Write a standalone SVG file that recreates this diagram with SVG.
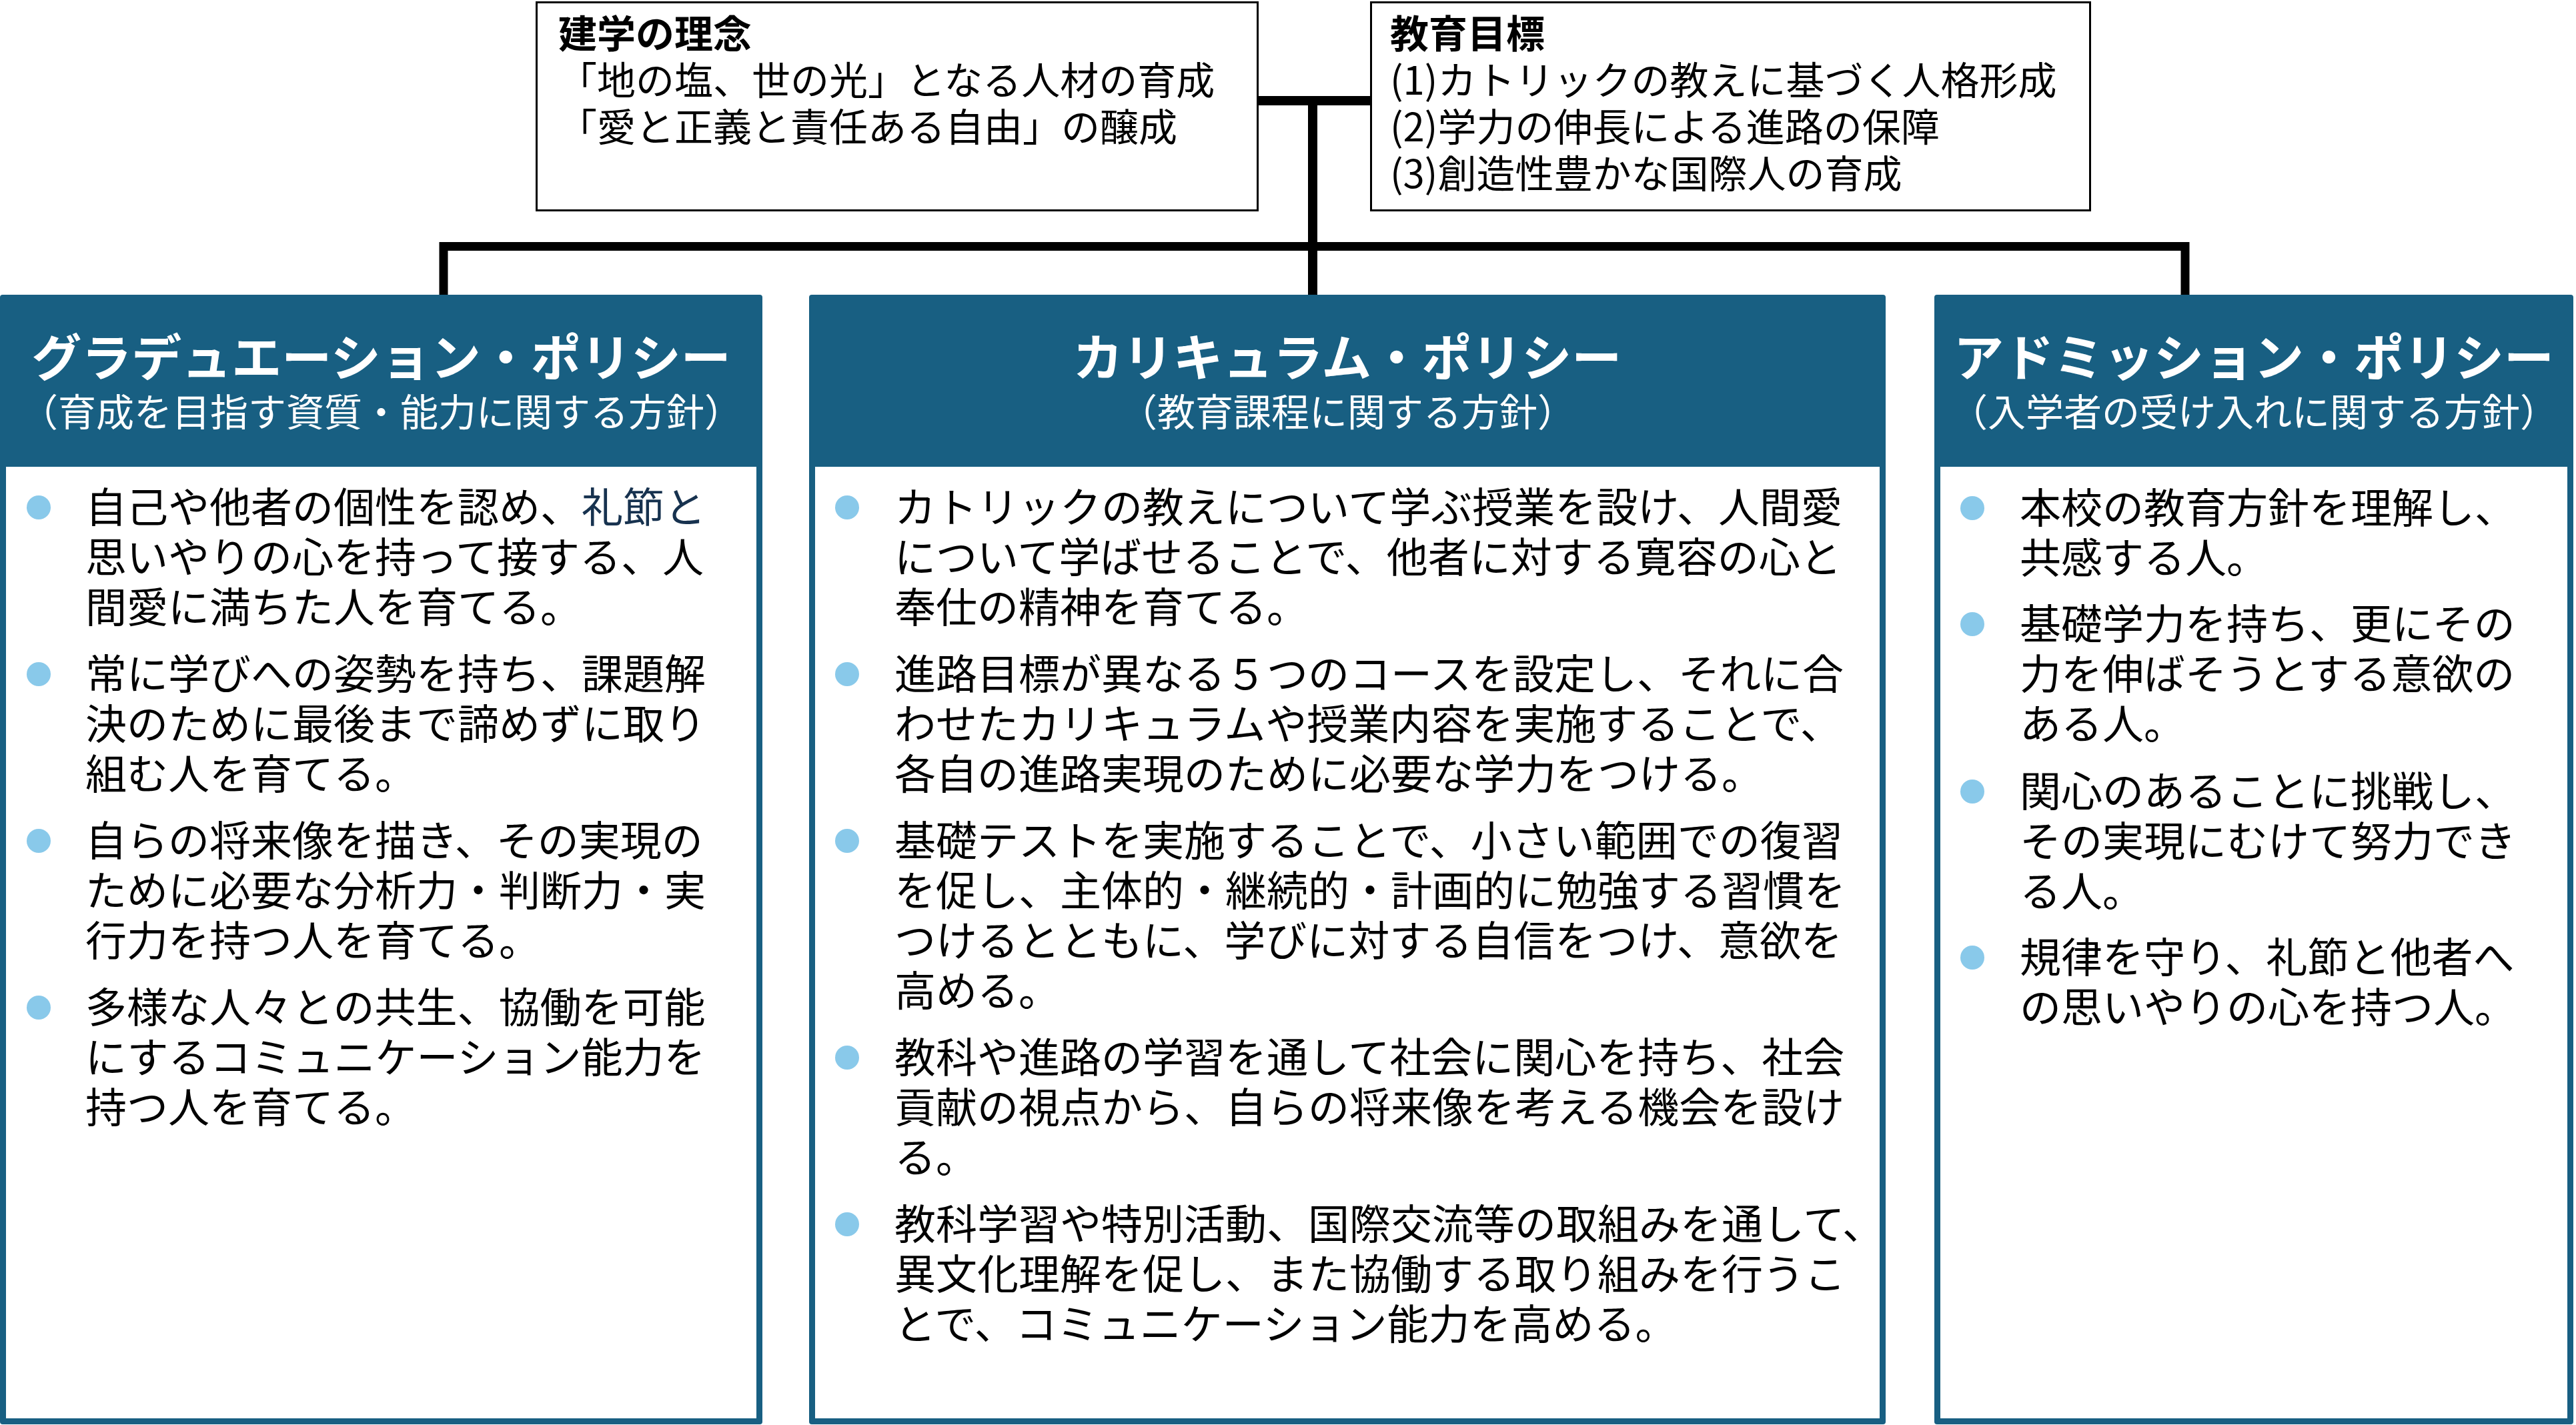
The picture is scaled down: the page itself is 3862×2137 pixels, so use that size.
<svg xmlns="http://www.w3.org/2000/svg" width="3862" height="2137" viewBox="0 0 3862 2137">
<style>
.topbox{fill:#fff;stroke:#000;stroke-width:3}
.toptxt{font-family:"Noto Sans CJK JP","Noto Sans",sans-serif;font-size:58px;fill:#000}
.topttl{font-weight:700}
.frame{fill:#185F82}
.inner{fill:#fff}
.title{font-family:"Noto Sans CJK JP","Noto Sans",sans-serif;font-size:75px;font-weight:700;fill:#fff;text-anchor:middle}
.sub{font-family:"Noto Sans CJK JP","Noto Sans",sans-serif;font-size:57px;fill:#fff;text-anchor:middle}
.body{font-family:"Noto Sans CJK JP","Noto Sans",sans-serif;font-size:62px;fill:#000}
.hl{fill:#17324F}
.dot{fill:#89C9EA}
.conn{fill:none;stroke:#000;stroke-linejoin:miter;stroke-linecap:butt}
</style>

<g id="connectors">
<line class="conn" x1="1886" y1="151" x2="2055" y2="151" stroke-width="14"/>
<line class="conn" x1="1968" y1="151" x2="1968" y2="442" stroke-width="14"/>
<polyline class="conn" points="665,442 665,369.5 3276,369.5 3276,442" stroke-width="13"/>
</g>

<g id="node-kengaku">
<rect class="topbox" x="804.5" y="3.5" width="1081" height="312"/>
<text class="toptxt topttl" x="837" y="72">建学の理念</text>
<text class="toptxt" x="837" y="142">「地の塩、世の光」となる人材の育成</text>
<text class="toptxt" x="837" y="212">「愛と正義と責任ある自由」の醸成</text>
</g>

<g id="node-mokuhyo">
<rect class="topbox" x="2055.5" y="3.5" width="1078" height="312"/>
<text class="toptxt topttl" x="2084" y="72">教育目標</text>
<text class="toptxt" x="2084" y="142">(1)カトリックの教えに基づく人格形成</text>
<text class="toptxt" x="2084" y="212">(2)学力の伸長による進路の保障</text>
<text class="toptxt" x="2084" y="282">(3)創造性豊かな国際人の育成</text>
</g>

<g id="node-graduation">
<rect class="frame" x="0" y="442" width="1143" height="1694" rx="4"/>
<rect class="inner" x="9" y="700" width="1125" height="1427"/>
<text class="title" x="571.5" y="564">グラデュエーション・ポリシー</text>
<text class="sub" x="571.5" y="639">（育成を目指す資質・能力に関する方針）</text>
<circle class="dot" cx="58" cy="761" r="18"/>
<circle class="dot" cx="58" cy="1011" r="18"/>
<circle class="dot" cx="58" cy="1261" r="18"/>
<circle class="dot" cx="58" cy="1511" r="18"/>
<text class="body">
<tspan x="128" y="784">自己や他者の個性を認め、<tspan class="hl">礼節と</tspan></tspan>
<tspan x="128" y="859">思いやりの心を持って接する、人</tspan>
<tspan x="128" y="934">間愛に満ちた人を育てる。</tspan>
<tspan x="128" y="1034">常に学びへの姿勢を持ち、課題解</tspan>
<tspan x="128" y="1109">決のために最後まで諦めずに取り</tspan>
<tspan x="128" y="1184">組む人を育てる。</tspan>
<tspan x="128" y="1284">自らの将来像を描き、その実現の</tspan>
<tspan x="128" y="1359">ために必要な分析力・判断力・実</tspan>
<tspan x="128" y="1434">行力を持つ人を育てる。</tspan>
<tspan x="128" y="1534">多様な人々との共生、協働を可能</tspan>
<tspan x="128" y="1609">にするコミュニケーション能力を</tspan>
<tspan x="128" y="1684">持つ人を育てる。</tspan>
</text>
</g>

<g id="node-curriculum">
<rect class="frame" x="1213" y="442" width="1614" height="1694" rx="4"/>
<rect class="inner" x="1222" y="700" width="1596" height="1427"/>
<text class="title" x="2020" y="564">カリキュラム・ポリシー</text>
<text class="sub" x="2020" y="639">（教育課程に関する方針）</text>
<circle class="dot" cx="1270" cy="761" r="18"/>
<circle class="dot" cx="1270" cy="1011" r="18"/>
<circle class="dot" cx="1270" cy="1261" r="18"/>
<circle class="dot" cx="1270" cy="1586" r="18"/>
<circle class="dot" cx="1270" cy="1836" r="18"/>
<text class="body">
<tspan x="1341" y="784">カトリックの教えについて学ぶ授業を設け、人間愛</tspan>
<tspan x="1341" y="859">について学ばせることで、他者に対する寛容の心と</tspan>
<tspan x="1341" y="934">奉仕の精神を育てる。</tspan>
<tspan x="1341" y="1034">進路目標が異なる５つのコースを設定し、それに合</tspan>
<tspan x="1341" y="1109">わせたカリキュラムや授業内容を実施することで、</tspan>
<tspan x="1341" y="1184">各自の進路実現のために必要な学力をつける。</tspan>
<tspan x="1341" y="1284">基礎テストを実施することで、小さい範囲での復習</tspan>
<tspan x="1341" y="1359">を促し、主体的・継続的・計画的に勉強する習慣を</tspan>
<tspan x="1341" y="1434">つけるとともに、学びに対する自信をつけ、意欲を</tspan>
<tspan x="1341" y="1509">高める。</tspan>
<tspan x="1341" y="1609">教科や進路の学習を通して社会に関心を持ち、社会</tspan>
<tspan x="1341" y="1684">貢献の視点から、自らの将来像を考える機会を設け</tspan>
<tspan x="1341" y="1759">る。</tspan>
<tspan x="1341" y="1859">教科学習や特別活動、国際交流等の取組みを通して、</tspan>
<tspan x="1341" y="1934">異文化理解を促し、また協働する取り組みを行うこ</tspan>
<tspan x="1341" y="2009">とで、コミュニケーション能力を高める。</tspan>
</text>
</g>

<g id="node-admission">
<rect class="frame" x="2900" y="442" width="958" height="1694" rx="4"/>
<rect class="inner" x="2909" y="700" width="940" height="1427"/>
<text class="title" x="3379" y="564">アドミッション・ポリシー</text>
<text class="sub" x="3379" y="639">（入学者の受け入れに関する方針）</text>
<circle class="dot" cx="2957" cy="762" r="18"/>
<circle class="dot" cx="2957" cy="936" r="18"/>
<circle class="dot" cx="2957" cy="1187" r="18"/>
<circle class="dot" cx="2957" cy="1436" r="18"/>
<text class="body">
<tspan x="3028" y="785">本校の教育方針を理解し、</tspan>
<tspan x="3028" y="860">共感する人。</tspan>
<tspan x="3028" y="959">基礎学力を持ち、更にその</tspan>
<tspan x="3028" y="1034">力を伸ばそうとする意欲の</tspan>
<tspan x="3028" y="1109">ある人。</tspan>
<tspan x="3028" y="1210">関心のあることに挑戦し、</tspan>
<tspan x="3028" y="1285">その実現にむけて努力でき</tspan>
<tspan x="3028" y="1360">る人。</tspan>
<tspan x="3028" y="1459">規律を守り、礼節と他者へ</tspan>
<tspan x="3028" y="1534">の思いやりの心を持つ人。</tspan>
</text>
</g>
</svg>
